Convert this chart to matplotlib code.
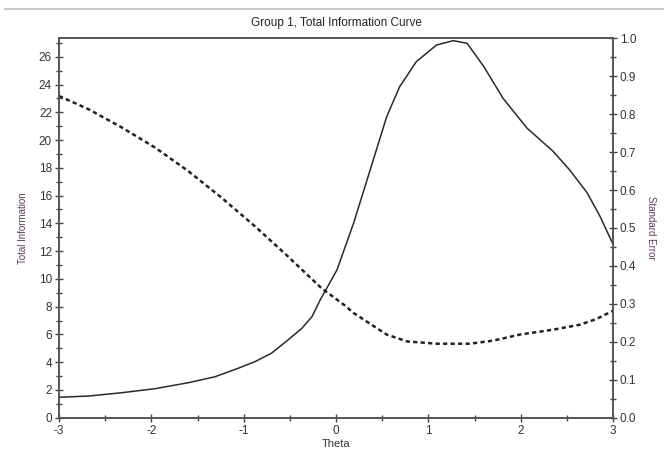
import matplotlib
matplotlib.use("Agg")
import matplotlib.pyplot as plt
from matplotlib.lines import Line2D
from matplotlib.ticker import MultipleLocator, FixedLocator, FormatStrFormatter

plt.rcParams['font.family'] = ['Liberation Sans', 'DejaVu Sans']
plt.rcParams['axes.unicode_minus'] = False

info_theta = [-3.0, -2.68, -2.32, -1.96, -1.60, -1.31, -1.06, -0.88, -0.70, -0.52, -0.37,
              -0.26, -0.17, 0.01, 0.19, 0.37, 0.55, 0.69, 0.87, 1.09, 1.27, 1.42, 1.60,
              1.81, 2.07, 2.35, 2.53, 2.72, 2.86, 3.0]
info_vals = [1.47, 1.56, 1.80, 2.09, 2.52, 2.95, 3.56, 4.03, 4.64, 5.6, 6.44,
             7.28, 8.5, 10.64, 14.0, 17.85, 21.7, 23.85, 25.65, 26.85, 27.16, 26.97, 25.3,
             23.0, 20.85, 19.2, 17.85, 16.2, 14.5, 12.5]

se_theta = [-3.0, -2.68, -2.32, -1.96, -1.60, -1.24, -0.88, -0.52, -0.16, 0.10, 0.19,
            0.55, 0.77, 1.09, 1.45, 1.70, 1.99, 2.35, 2.64, 2.82, 3.0]
se_vals = [0.848, 0.813, 0.765, 0.712, 0.650, 0.580, 0.505, 0.425, 0.342, 0.295, 0.276,
           0.219, 0.201, 0.195, 0.195, 0.203, 0.219, 0.232, 0.245, 0.26, 0.282]

x_labels = [-3, -2, -1, 0, 1, 2, 3]

fig = plt.figure(figsize=(6.64, 4.63), dpi=100)
ax = fig.add_axes([59/664, 1-417.7/463, (613-59)/664, (417.7-38.3)/463])
ax2 = ax.twinx()

ax.plot(info_theta, info_vals, color='#2a2a2a', lw=1.1, solid_joinstyle='round')
ax2.plot(se_theta, se_vals, color='#222222', lw=1.8, linestyle=(0, (1.7, 1.3)))

ax.set_xlim(-3, 3)
ax.set_ylim(0, 27.33)
ax2.set_ylim(0, 1.0)

ax.xaxis.set_major_locator(FixedLocator(x_labels))
ax.xaxis.set_minor_locator(MultipleLocator(0.5))
ax.yaxis.set_major_locator(MultipleLocator(2))
ax.yaxis.set_minor_locator(MultipleLocator(1))
ax2.yaxis.set_major_locator(MultipleLocator(0.1))
ax2.yaxis.set_minor_locator(MultipleLocator(0.05))
ax2.yaxis.set_major_formatter(FormatStrFormatter('%.1f'))

tc = '#444444'
for a in (ax, ax2):
    a.tick_params(which='major', direction='inout', length=6, width=1.0, color=tc,
                  labelsize=8.5, labelcolor='#333333', pad=2)
    a.tick_params(which='minor', direction='inout', length=4, width=1.0, color=tc)
    for s in a.spines.values():
        s.set_color('#555555')
        s.set_linewidth(1.2)
ax.tick_params(axis='x', which='both', top=False)

ax.set_xlabel('Theta', fontsize=8, color='#333333', labelpad=2)
ax.set_ylabel('Total Information', fontsize=7, color='#5a3a5a', labelpad=8)
ax2.set_ylabel('Standard Error', fontsize=7, color='#5a3a5a', rotation=-90, labelpad=14)
ax.set_title('Group 1, Total Information Curve', fontsize=8.5, color='#222222', pad=9)

fig.add_artist(Line2D([5/664, 1.0], [1-9/463, 1-9/463], color='#bbbbbb', lw=1.2))

fig.savefig('out.png', dpi=100)
